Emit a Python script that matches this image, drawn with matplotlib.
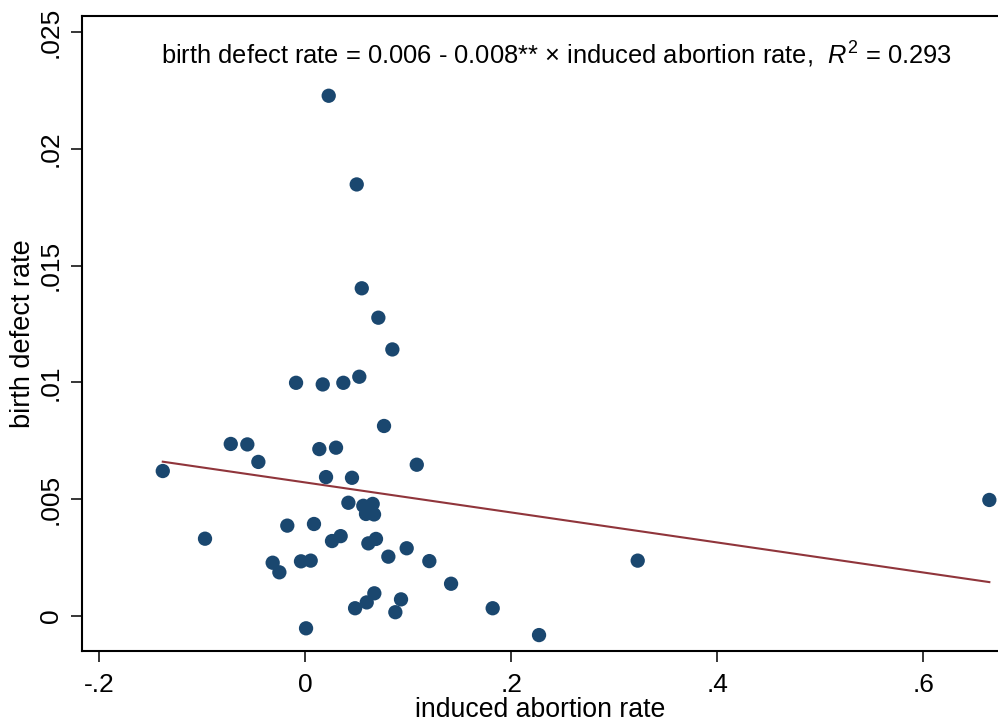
import numpy as np
import matplotlib
matplotlib.use('Agg')
import matplotlib.pyplot as plt

plt.rcParams['font.family'] = ['Liberation Sans', 'DejaVu Sans']
plt.rcParams['mathtext.fontset'] = 'custom'
plt.rcParams['mathtext.rm'] = 'Liberation Sans'
plt.rcParams['mathtext.it'] = 'Liberation Sans:italic'

# induced abortion rate vs birth defect rate
abortion_rate = [
  -0.009, 0.0169, 0.0369, 0.0524, 0.0764, -0.0724, -0.0563, -0.0456, -0.1384, 0.0136,
  0.0298, 0.0201, 0.0453, 0.1082, 0.0418, 0.0563, 0.0654, 0.0589, 0.0667, -0.0974,
  -0.0175, 0.0084, 0.0259, 0.0343, 0.0612, 0.0686, 0.0806, 0.0984, 0.1204, -0.0317,
  -0.0252, -0.0042, 0.0052, 0.1415, 0.0483, 0.0596, 0.0670, 0.0874, 0.0929, 0.0007,
  0.1819, 0.2269, 0.3227, 0.6641, 0.0227, 0.0499, 0.0548, 0.0709, 0.0845,
]
defect_rate = [
  0.00998, 0.00991, 0.00998, 0.01024, 0.00813, 0.00736, 0.00734, 0.00659, 0.00620, 0.00714,
  0.00720, 0.00594, 0.00591, 0.00647, 0.00484, 0.00471, 0.00479, 0.00436, 0.00434, 0.00330,
  0.00386, 0.00393, 0.00320, 0.00341, 0.00310, 0.00329, 0.00253, 0.00289, 0.00234, 0.00227,
  0.00186, 0.00233, 0.00236, 0.00137, 0.00032, 0.00057, 0.00096, 0.00015, 0.00070, -0.00054,
  0.00032, -0.00083, 0.00236, 0.00496, 0.02228, 0.01848, 0.01403, 0.01277, 0.01141,
]

# fitted line end points
fit_x = [-0.1384, 0.6641]
fit_y = [0.00660, 0.00144]

xticks = [-0.2, 0.0, 0.2, 0.4, 0.6]
xtick_labels = ['-.2', '0', '.2', '.4', '.6']
yticks = [0.0, 0.005, 0.01, 0.015, 0.02, 0.025]
ytick_labels = ['0', '.005', '.01', '.015', '.02', '.025']

eq_text = 'birth defect rate = 0.006 - 0.008** \u00d7 induced abortion rate,  $R^2$ = 0.293'

navy = '#1A476F'
maroon = '#90353B'

fig = plt.figure(figsize=(9.98, 7.24), dpi=100)
ax = fig.add_axes([0.0825, 0.1008, 1.0 - 0.0825, 0.9783 - 0.1008])

ax.scatter(abortion_rate, defect_rate, s=106, color=navy, edgecolors='none', zorder=3)
ax.plot(fit_x, fit_y, color=maroon, lw=1.5, zorder=2)

ax.set_xlim(-0.2165, 0.6725)
ax.set_ylim(-0.001513, 0.02571)

ax.set_xticks(xticks)
ax.set_xticklabels(xtick_labels)
ax.set_yticks(yticks)
ax.set_yticklabels(ytick_labels, rotation=90, va='center')

ax.tick_params(axis='both', length=8, width=1.1, labelsize=19, color='black')
ax.tick_params(axis='x', pad=8)
ax.tick_params(axis='y', pad=6)

ax.spines['right'].set_visible(False)
for s in ['left', 'top', 'bottom']:
  ax.spines[s].set_linewidth(1.5)

ax.set_xlabel('induced abortion rate', fontsize=19.2, labelpad=0)
ax.set_ylabel('birth defect rate', fontsize=19.5, labelpad=2)

ax.text(0.0856, 0.924, eq_text, transform=ax.transAxes, fontsize=18.4,
        ha='left', va='baseline')

fig.savefig('out.png', dpi=100)
